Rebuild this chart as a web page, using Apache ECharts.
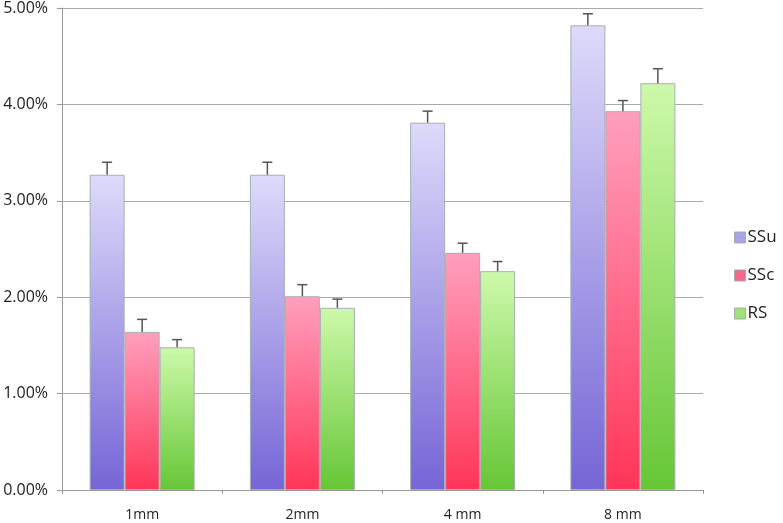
<!DOCTYPE html>
<html><head><meta charset="utf-8">
<script src="https://cdn.jsdelivr.net/npm/echarts@6/dist/echarts.min.js"></script>
<style>html,body{margin:0;padding:0;background:#fff}#c{width:783px;height:523px}</style>
</head><body><div id="c"></div>
<script>
const categories = ['1mm', '2mm', '4 mm', '8 mm'];
const seriesNames = ['SSu', 'SSc', 'RS'];
const ssu = [3.27, 3.27, 3.81, 4.82];
const ssc = [1.64, 2.01, 2.46, 3.93];
const rs  = [1.48, 1.89, 2.27, 4.22];
const ssuErr = [0.13, 0.13, 0.12, 0.12];
const sscErr = [0.13, 0.12, 0.10, 0.11];
const rsErr  = [0.08, 0.09, 0.10, 0.15];
const yTicks = [0, 1, 2, 3, 4, 5];

const values = [ssu, ssc, rs];
const errs = [ssuErr, sscErr, rsErr];
const grads = [
  ['#dedafa', '#7565d6'],
  ['#ff9fbd', '#ff3558'],
  ['#cdf9aa', '#66c636']
];
const legendColors = ['#a9a3ea', '#f7678a', '#9fe07a'];
const BAR_W = 35;

const chart = echarts.init(document.getElementById('c'), null, {renderer: 'canvas'});
const font = '"Open Sans", "DejaVu Sans", sans-serif';

const barSeries = seriesNames.map((name, i) => ({
  name, type: 'bar', barWidth: BAR_W, barGap: '0%',
  data: values[i],
  itemStyle: {
    color: new echarts.graphic.LinearGradient(0, 0, 0, 1, [
      {offset: 0, color: grads[i][0]}, {offset: 1, color: grads[i][1]}
    ]),
    borderColor: '#a9adb3', borderWidth: 1
  },
  emphasis: {disabled: true},
  z: 2
}));

const errSeries = seriesNames.map((name, i) => ({
  name: name + '_err', type: 'custom',
  data: values[i].map((v, k) => [k, v, v + errs[i][k]]),
  renderItem: function (params, api) {
    const base = api.coord([api.value(0), api.value(1)]);
    const top = api.coord([api.value(0), api.value(2)]);
    const x = base[0] + (i - 1) * BAR_W;
    const style = {stroke: '#555', lineWidth: 1.5};
    return {type: 'group', children: [
      {type: 'line', shape: {x1: x, y1: base[1], x2: x, y2: top[1]}, style},
      {type: 'line', shape: {x1: x - 5, y1: top[1], x2: x + 5, y2: top[1]}, style}
    ]};
  },
  z: 3, silent: true
}));

chart.setOption({
  animation: false,
  backgroundColor: '#fff',
  grid: {left: 62, right: 80, top: 8, bottom: 33},
  legend: {
    orient: 'vertical', left: 729, top: 224, itemGap: 21,
    itemWidth: 11, itemHeight: 11, icon: 'rect',
    data: seriesNames.map((n, i) => ({name: n, itemStyle: {color: legendColors[i], borderColor: '#aaa', borderWidth: 1}})),
    textStyle: {fontFamily: font, fontSize: 17, color: '#222', padding: [0, 0, 0, -3]},
    selectedMode: false
  },
  xAxis: {
    type: 'category', data: categories,
    axisLine: {lineStyle: {color: '#999', width: 1}},
    axisTick: {show: true, alignWithLabel: false, length: 4, lineStyle: {color: '#999'}},
    axisLabel: {fontFamily: font, fontSize: 14, color: '#222', margin: 18}
  },
  yAxis: {
    type: 'value', min: yTicks[0], max: yTicks[yTicks.length - 1], interval: 1,
    axisLine: {show: true, lineStyle: {color: '#999'}},
    axisTick: {show: true, length: 5, lineStyle: {color: '#999'}},
    splitLine: {lineStyle: {color: '#aaa', width: 1}},
    axisLabel: {fontFamily: font, fontSize: 16, color: '#222', margin: 14,
      formatter: v => v.toFixed(2) + '%'}
  },
  series: [...barSeries, ...errSeries]
});
</script></body></html>
